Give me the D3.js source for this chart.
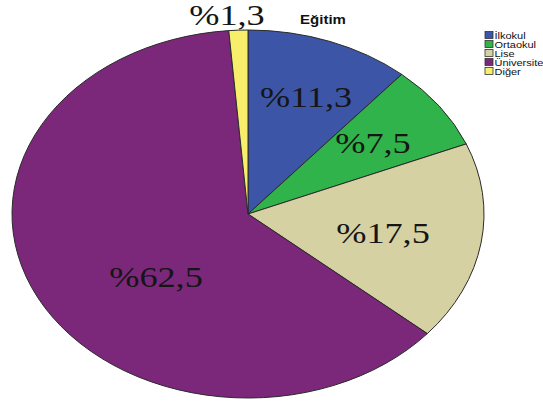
<!DOCTYPE html>
<html>
<head>
<meta charset="utf-8">
<script src="https://cdn.jsdelivr.net/npm/d3@7"></script>
<style>
  html, body { margin: 0; padding: 0; background: #fff; }
  svg { display: block; }
</style>
</head>
<body>
<svg id="chart" width="543" height="401"></svg>
<script>
// Education level distribution
const categories = ["İlkokul", "Ortaokul", "Lise", "Üniversite", "Diğer"];
const values = [11.3, 7.5, 17.5, 62.5, 1.3];
const valueLabels = ["%11,3", "%7,5", "%17,5", "%62,5", "%1,3"];
const colors = ["#3d55a6", "#2fb34a", "#d6d1a3", "#7b287b", "#f7ef6b"];
const title = "Eğitim";

// layout
const cx = 248, cy = 214, rx = 236, ry = 184;
const stretch = 1.25; // horizontal text stretch, same as the pie's aspect
// label anchors relative to pie centre (text centre x, baseline y)
const labelAnchors = [[58, -107], [125, -61], [135, 29], [-92, 73], [-21, -189]];
const serif = '"Liberation Serif", "Times New Roman", serif';
const sans = '"Liberation Sans", Arial, sans-serif';

const svg = d3.select("#chart");

const pie = d3.pie().sort(null).value(d => d.value);
const arcs = pie(categories.map((c, i) => ({ name: c, value: values[i], label: valueLabels[i] })));
const arc = d3.arc().innerRadius(0).outerRadius(rx);

const g = svg.append("g")
  .attr("transform", `translate(${cx},${cy}) scale(1,${ry / rx})`);

const color = d3.scaleOrdinal().domain(categories).range(colors);

g.selectAll("path")
  .data(arcs)
  .join("path")
  .attr("d", arc)
  .attr("fill", d => color(d.data.name))
  .attr("stroke", "#2a2a2a")
  .attr("stroke-width", 1)
  .attr("vector-effect", "non-scaling-stroke");

svg.append("g")
  .attr("transform", `translate(${cx},${cy})`)
  .selectAll("text")
  .data(arcs)
  .join("text")
  .style("font-family", serif)
  .attr("transform", (d, i) => `translate(${labelAnchors[i][0]},${labelAnchors[i][1]}) scale(${stretch},1)`)
  .attr("text-anchor", "middle")
  .attr("font-size", 29)
  .attr("fill", "#151515")
  .text(d => d.data.label);

svg.append("text")
  .style("font-family", sans)
  .attr("transform", `translate(323,24) scale(${stretch},1)`)
  .attr("text-anchor", "middle")
  .attr("font-weight", "bold")
  .attr("font-size", 12)
  .attr("fill", "#111")
  .text(title);

// legend
const legend = svg.append("g").attr("transform", "translate(485,31.5)");
const rowH = 9;
const rows = legend.selectAll("g")
  .data(categories)
  .join("g")
  .attr("transform", (d, i) => `translate(0,${i * rowH})`);
rows.append("rect")
  .attr("width", 8)
  .attr("height", 7)
  .attr("fill", d => color(d))
  .attr("stroke", "#333")
  .attr("stroke-width", 0.8);
rows.append("text")
  .style("font-family", sans)
  .attr("transform", `translate(9.5,7) scale(${stretch},1)`)
  .attr("font-size", 8.8)
  .attr("fill", "#111")
  .text(d => d);
</script>
</body>
</html>
